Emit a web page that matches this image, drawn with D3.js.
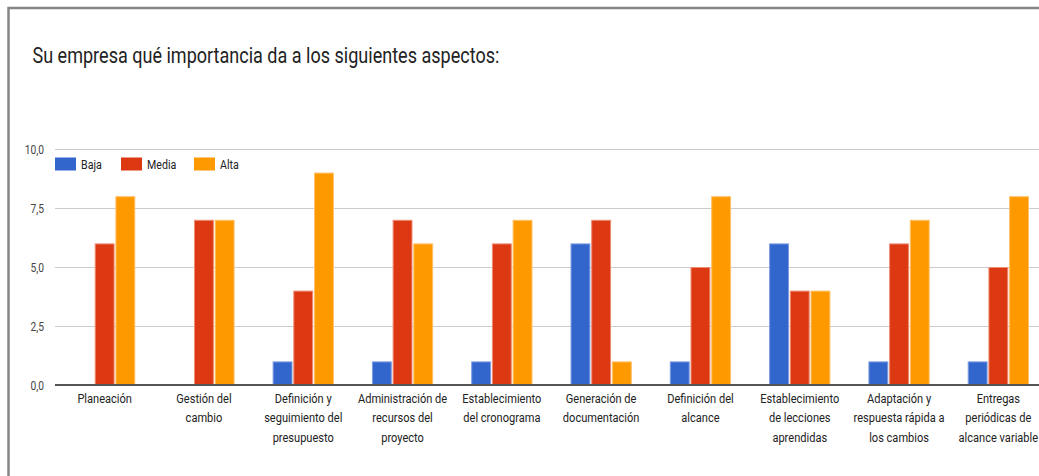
<!DOCTYPE html>
<html>
<head>
<meta charset="utf-8">
<script src="https://cdn.jsdelivr.net/npm/d3@7"></script>
<style>
  html, body { margin: 0; padding: 0; background: #ffffff; }
  svg { display: block; }
  text { font-family: Roboto, "Noto Sans", Arial, sans-serif; }
</style>
</head>
<body>
<svg id="chart" width="1039" height="476"></svg>
<script>
// Survey results: importance given to each project-management aspect
const title = "Su empresa qué importancia da a los siguientes aspectos:";

const categories = [
  ["Planeación"],
  ["Gestión del", "cambio"],
  ["Definición y", "seguimiento del", "presupuesto"],
  ["Administración de", "recursos del", "proyecto"],
  ["Establecimiento", "del cronograma"],
  ["Generación de", "documentación"],
  ["Definición del", "alcance"],
  ["Establecimiento", "de lecciones", "aprendidas"],
  ["Adaptación y", "respuesta rápida a", "los cambios"],
  ["Entregas", "periódicas de", "alcance variable"]
];

const seriesNames = ["Baja", "Media", "Alta"];
const baja  = [0, 0, 1, 1, 1, 6, 1, 6, 1, 1];
const media = [6, 7, 4, 7, 6, 7, 5, 4, 6, 5];
const alta  = [8, 7, 9, 6, 7, 1, 8, 4, 7, 8];

const tickValues = [0, 2.5, 5, 7.5, 10];
const tickLabels = ["0,0", "2,5", "5,0", "7,5", "10,0"];

const colors = ["#3366cc", "#dc3912", "#ff9900"];
const strokes = ["#7f9ce0", "#ee8c73", "#ffc066"];

// horizontal squeeze applied to all text (narrow rendering)
const SX = 0.82;

const svg = d3.select("#chart");

// frame lines (top and left edge)
svg.append("path")
  .attr("d", "M8.5,476V8H1039")
  .attr("fill", "none")
  .attr("stroke", "#858585")
  .attr("stroke-width", 2.5);

const keys = categories.map((c, i) => i);
const values = [baja, media, alta];

const x0 = d3.scaleBand()
  .domain(keys)
  .range([55, 1048])
  .paddingInner(0.383)
  .paddingOuter(0.1915);

const x1 = d3.scaleBand()
  .domain(seriesNames)
  .range([0, x0.bandwidth()])
  .paddingInner(0.04);

const y = d3.scaleLinear().domain([0, 10]).range([385, 149]);

// gridlines
svg.append("g")
  .selectAll("line")
  .data(tickValues.filter(v => v !== 0))
  .join("line")
  .attr("x1", 55).attr("x2", 1039)
  .attr("y1", d => Math.round(y(d)) + 0.5)
  .attr("y2", d => Math.round(y(d)) + 0.5)
  .attr("stroke", "#cccccc")
  .attr("stroke-width", 1);

// tick labels
const tickG = svg.append("g");
tickValues.forEach((v, i) => {
  tickG.append("text")
    .attr("transform", `translate(44,${y(v) + 4.5}) scale(${SX},1)`)
    .attr("text-anchor", "end")
    .attr("font-size", 12.5)
    .attr("fill", "#444444")
    .text(tickLabels[i]);
});

// bars
const groups = svg.append("g")
  .selectAll("g")
  .data(keys)
  .join("g")
  .attr("transform", d => `translate(${x0(d)},0)`);

groups.selectAll("rect")
  .data(i => seriesNames.map((s, j) => ({ s, j, v: values[j][i] })).filter(d => d.v > 0))
  .join("rect")
  .attr("x", d => x1(d.s) + 0.5)
  .attr("width", x1.bandwidth() - 1)
  .attr("y", d => y(d.v) + 0.5)
  .attr("height", d => y(0) - y(d.v) - 0.5)
  .attr("fill", d => colors[d.j])
  .attr("stroke", d => strokes[d.j])
  .attr("stroke-width", 1);

// baseline
svg.append("line")
  .attr("x1", 55).attr("x2", 1039)
  .attr("y1", y(0)).attr("y2", y(0))
  .attr("stroke", "#555555")
  .attr("stroke-width", 2);

// category labels
const catG = svg.append("g");
categories.forEach((lines, i) => {
  const cx = x0(i) + x0.bandwidth() / 2;
  lines.forEach((ln, k) => {
    catG.append("text")
      .attr("transform", `translate(${cx},${402.5 + k * 19.5}) scale(${SX},1)`)
      .attr("text-anchor", "middle")
      .attr("font-size", 13.5)
      .attr("fill", "#222222")
      .text(ln);
  });
});

// legend
const legendX = [55, 121, 194];
const legend = svg.append("g");
seriesNames.forEach((s, j) => {
  legend.append("rect")
    .attr("x", legendX[j]).attr("y", 157.5)
    .attr("width", 21).attr("height", 13)
    .attr("fill", colors[j]);
  legend.append("text")
    .attr("transform", `translate(${legendX[j] + 26},${169}) scale(${SX},1)`)
    .attr("font-size", 13)
    .attr("fill", "#222222")
    .text(s);
});

// title
svg.append("text")
  .attr("transform", `translate(32.5,62.5) scale(${SX},1)`)
  .attr("font-size", 22)
  .attr("fill", "#222222")
  .text(title);
</script>
</body>
</html>
